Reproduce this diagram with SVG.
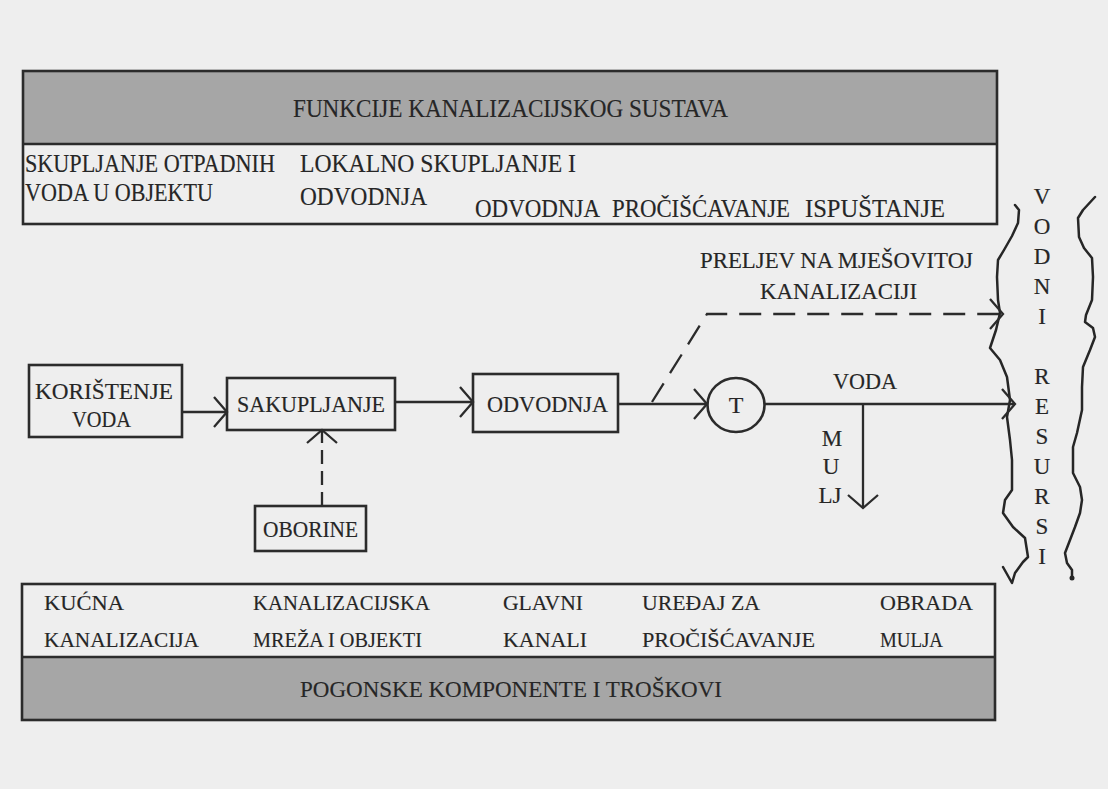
<svg xmlns="http://www.w3.org/2000/svg" width="1108" height="789" viewBox="0 0 1108 789">
<style>
  text { font-family: "Liberation Serif", "Times New Roman", serif; fill: #262626; stroke: #262626; stroke-width: 0.15; font-size: 24px; }
  .tp { font-size: 25px; }
  .sm { font-size: 22px; }
  .vt { font-size: 23px; text-anchor: middle; }
  .box { fill: none; stroke: #2b2b2b; stroke-width: 2.6; }
  .band { fill: #a6a6a6; stroke: none; }
  .ln { fill: none; stroke: #2b2b2b; stroke-width: 2.3; }
  .dash1 { stroke-dasharray: 22 12; }
  .dash2 { stroke-dasharray: 14 7; }
  .bank { fill: none; stroke: #262626; stroke-width: 2.5; stroke-linejoin: round; stroke-linecap: round; }
</style>
<defs>
  <marker id="arr" markerUnits="userSpaceOnUse" markerWidth="16" markerHeight="32" viewBox="0 0 16 32" refX="14" refY="16" orient="auto">
    <path d="M1,1 L14,16 L1,31" fill="none" stroke="#2b2b2b" stroke-width="2.3" stroke-dasharray="none"/>
  </marker>
</defs>
<rect x="0" y="0" width="1108" height="789" fill="#eeeeee"/>

<g id="top-box">
  <rect class="band" x="23" y="71" width="974" height="73"/>
  <rect class="box" x="23" y="71" width="974" height="153"/>
  <line class="box" x1="23" y1="144" x2="997" y2="144"/>
  <text class="tp" x="293" y="117" textLength="435" lengthAdjust="spacingAndGlyphs">FUNKCIJE KANALIZACIJSKOG SUSTAVA</text>
  <text class="tp" x="25" y="172" textLength="250" lengthAdjust="spacingAndGlyphs">SKUPLJANJE OTPADNIH</text>
  <text class="tp" x="25" y="201" textLength="188" lengthAdjust="spacingAndGlyphs">VODA U OBJEKTU</text>
  <text class="tp" x="300" y="172" textLength="276" lengthAdjust="spacingAndGlyphs">LOKALNO SKUPLJANJE I</text>
  <text class="tp" x="300" y="205" textLength="127" lengthAdjust="spacingAndGlyphs">ODVODNJA</text>
  <text class="tp" x="475" y="217" textLength="125" lengthAdjust="spacingAndGlyphs">ODVODNJA</text>
  <text class="tp" x="612" y="217" textLength="178" lengthAdjust="spacingAndGlyphs">PROČIŠĆAVANJE</text>
  <text class="tp" x="805" y="217" textLength="140" lengthAdjust="spacingAndGlyphs">ISPUŠTANJE</text>
</g>

<g id="node-koristenje">
  <rect class="box" x="29" y="365" width="153" height="72"/>
  <text x="35" y="399" textLength="138" lengthAdjust="spacingAndGlyphs">KORIŠTENJE</text>
  <text x="72" y="427" textLength="59" lengthAdjust="spacingAndGlyphs">VODA</text>
</g>

<g id="node-sakupljanje">
  <rect class="box" x="227" y="378" width="168" height="52"/>
  <text x="237" y="412" textLength="148" lengthAdjust="spacingAndGlyphs">SAKUPLJANJE</text>
</g>

<g id="node-odvodnja">
  <rect class="box" x="473" y="374" width="145" height="58"/>
  <text x="487" y="412" textLength="121" lengthAdjust="spacingAndGlyphs">ODVODNJA</text>
</g>

<g id="node-oborine">
  <rect class="box" x="255" y="506" width="111" height="45"/>
  <text x="263" y="537" textLength="95" lengthAdjust="spacingAndGlyphs">OBORINE</text>
</g>

<g id="node-t">
  <ellipse class="box" cx="736" cy="405" rx="28.5" ry="27"/>
  <text x="736" y="413" text-anchor="middle">T</text>
</g>

<g id="labels">
  <text x="700" y="268" textLength="273" lengthAdjust="spacingAndGlyphs">PRELJEV NA MJEŠOVITOJ</text>
  <text x="760" y="299" textLength="157" lengthAdjust="spacingAndGlyphs">KANALIZACIJI</text>
  <text x="833" y="389" textLength="64" lengthAdjust="spacingAndGlyphs">VODA</text>
  <text class="vt" x="832" y="446">M</text>
  <text class="vt" x="831" y="474">U</text>
  <text class="vt" x="830" y="503">LJ</text>
</g>

<g id="node-vodni-resursi">
  <path class="bank" d="M1015,205 L1019,210 L1018,223 L1012,236 L1004,250 L998,260 L997,277 L998,300 L1000,313 L996,330 L990,348 L1000,360 L1007,377 L1010,400 L1007,417 L1010,440 L1012,460 L1012,490 L1005,500 L1003,513 L1013,527 L1025,538 L1028,557 L1023,562 L1015,573 L1012,583 L1003,567"/>
  <path class="bank" d="M1095,197 L1083,210 L1078,218 L1079,237 L1084,248 L1092,258 L1093,277 L1092,300 L1086,315 L1085,322 L1093,328 L1095,337 L1090,350 L1083,367 L1082,387 L1082,410 L1077,433 L1073,447 L1073,473 L1080,487 L1082,500 L1080,513 L1075,527 L1070,540 L1065,553 L1067,563 L1072,570 L1072,577"/>
  <circle cx="1072" cy="578" r="2.5" fill="#262626"/>
  <text class="vt" x="1042" y="204">V</text>
  <text class="vt" x="1042" y="234">O</text>
  <text class="vt" x="1042" y="264">D</text>
  <text class="vt" x="1042" y="294">N</text>
  <text class="vt" x="1042" y="324">I</text>
  <text class="vt" x="1042" y="384">R</text>
  <text class="vt" x="1042" y="414">E</text>
  <text class="vt" x="1042" y="444">S</text>
  <text class="vt" x="1042" y="474">U</text>
  <text class="vt" x="1042" y="504">R</text>
  <text class="vt" x="1042" y="534">S</text>
  <text class="vt" x="1042" y="564">I</text>
</g>

<g id="bottom-box">
  <rect class="band" x="22" y="657" width="973" height="63"/>
  <rect class="box" x="22" y="584" width="973" height="136"/>
  <line class="box" x1="22" y1="657" x2="995" y2="657"/>
  <text class="sm" x="44" y="610" textLength="80" lengthAdjust="spacingAndGlyphs">KUĆNA</text>
  <text class="sm" x="44" y="647" textLength="155" lengthAdjust="spacingAndGlyphs">KANALIZACIJA</text>
  <text class="sm" x="253" y="610" textLength="177" lengthAdjust="spacingAndGlyphs">KANALIZACIJSKA</text>
  <text class="sm" x="253" y="647" textLength="169" lengthAdjust="spacingAndGlyphs">MREŽA I OBJEKTI</text>
  <text class="sm" x="503" y="610" textLength="80" lengthAdjust="spacingAndGlyphs">GLAVNI</text>
  <text class="sm" x="503" y="647" textLength="84" lengthAdjust="spacingAndGlyphs">KANALI</text>
  <text class="sm" x="642" y="610" textLength="118" lengthAdjust="spacingAndGlyphs">UREĐAJ ZA</text>
  <text class="sm" x="642" y="647" textLength="173" lengthAdjust="spacingAndGlyphs">PROČIŠĆAVANJE</text>
  <text class="sm" x="880" y="610" textLength="93" lengthAdjust="spacingAndGlyphs">OBRADA</text>
  <text class="sm" x="880" y="647" textLength="63" lengthAdjust="spacingAndGlyphs">MULJA</text>
  <text x="300" y="697" textLength="422" lengthAdjust="spacingAndGlyphs">POGONSKE KOMPONENTE I TROŠKOVI</text>
</g>

<g id="connectors">
  <line class="ln" x1="182" y1="412" x2="227" y2="412" marker-end="url(#arr)"/>
  <line class="ln" x1="395" y1="402" x2="473" y2="402" marker-end="url(#arr)"/>
  <line class="ln" x1="618" y1="404" x2="707" y2="404" marker-end="url(#arr)"/>
  <line class="ln" x1="764" y1="404" x2="1015" y2="404" marker-end="url(#arr)"/>
  <line class="ln" x1="863" y1="404" x2="863" y2="508" marker-end="url(#arr)"/>
  <line class="ln dash2" x1="322" y1="506" x2="322" y2="430" marker-end="url(#arr)"/>
  <path class="ln dash1" d="M652,402 L707,314 L1003,314" marker-end="url(#arr)"/>
</g>
</svg>
